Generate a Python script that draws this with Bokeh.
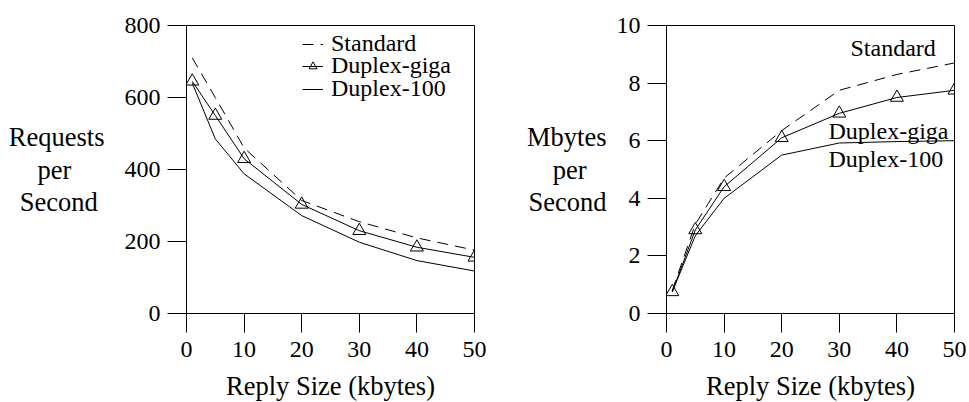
from bokeh.plotting import figure
from bokeh.models import Legend, LegendItem, Label, FixedTicker, Range1d
from bokeh.layouts import row
from bokeh.embed import file_html
from bokeh.resources import INLINE

# ---- data ----
reply_size = [1, 5, 10, 20, 30, 40, 50]
x_ticks = [0, 10, 20, 30, 40, 50]

req_standard = [710, 600, 460, 314, 255, 210, 176]
req_duplex_giga = [645, 550, 430, 303, 230, 184, 156]
req_duplex_100 = [640, 485, 388, 272, 198, 147, 118]
req_ticks = [0, 200, 400, 600, 800]

mb_standard = [0.8, 3.1, 4.7, 6.35, 7.75, 8.3, 8.7]
mb_duplex_giga = [0.75, 2.9, 4.4, 6.1, 6.95, 7.5, 7.75]
mb_duplex_100 = [0.75, 2.7, 4.0, 5.5, 5.92, 5.97, 6.0]
mb_ticks = [0, 2, 4, 6, 8, 10]

series_names = ["Standard", "Duplex-giga", "Duplex-100"]
x_label = "Reply Size (kbytes)"
NB = "\u00a0"
# lines are right-anchored by Bokeh; non-breaking spaces centre the shorter lines
left_ylabel = "Requests\nper" + NB * 5 + "\nSecond" + NB
right_ylabel = "Mbytes\nper" + NB * 3 + "\nSecond"

FONT = "Liberation Serif"
TICK_FS = "24px"
LABEL_FS = "26.5px"


def make_fig(left, right, ymax, yticks, ylab, ylab_standoff):
    p = figure(frame_width=288, frame_height=288, output_backend="svg", toolbar_location=None,
               x_range=Range1d(0, 50), y_range=Range1d(0, ymax),
               min_border_left=left, min_border_right=right,
               min_border_top=25, min_border_bottom=80)
    p.xaxis.ticker = FixedTicker(ticks=x_ticks)
    p.yaxis.ticker = FixedTicker(ticks=yticks)
    for ax in p.axis:
        ax.major_tick_out = 19
        ax.major_tick_in = 0
        ax.minor_tick_out = 0
        ax.minor_tick_in = 0
        ax.major_tick_line_color = "black"
        ax.axis_line_color = "black"
        ax.major_label_text_font = FONT
        ax.major_label_text_font_size = TICK_FS
        ax.major_label_text_color = "black"
        ax.axis_label_text_font = FONT
        ax.axis_label_text_font_size = LABEL_FS
        ax.axis_label_text_font_style = "normal"
        ax.axis_label_text_color = "black"
    p.xaxis.major_label_standoff = 9
    p.yaxis.major_label_standoff = 7
    p.xaxis.axis_label = x_label
    p.xaxis.axis_label_standoff = 11
    p.yaxis.axis_label = ylab
    p.yaxis.axis_label_standoff = ylab_standoff
    p.yaxis.axis_label_text_line_height = 1.08
    p.yaxis.axis_label_text_align = "center"
    try:
        p.yaxis.axis_label_orientation = "horizontal"
    except Exception:
        pass
    p.grid.visible = False
    p.outline_line_color = "black"
    p.outline_line_width = 1
    p.background_fill_color = "white"
    p.border_fill_color = "white"
    return p


# ---- left chart ----
p1 = make_fig(186, 36, 800, req_ticks, left_ylabel, 17)
r_std = p1.line(reply_size, req_standard, line_color="black", line_width=1, line_dash="11 7")
r_giga_l = p1.line(reply_size, req_duplex_giga, line_color="black", line_width=1)
r_giga_m = p1.scatter(reply_size, req_duplex_giga, marker="triangle", size=13,
                      line_color="black", fill_color=None, line_width=1)
r_100 = p1.line(reply_size, req_duplex_100, line_color="black", line_width=1)
legend_entries = [(series_names[0], [r_std], 256),
                  (series_names[1], [r_giga_l, r_giga_m], 234),
                  (series_names[2], [r_100], 211)]
for name, rends, ly in legend_entries:
    p1.add_layout(Legend(items=[LegendItem(label=name, renderers=rends)],
                         location=(116, ly), padding=0, margin=0, spacing=0,
                         glyph_width=21, glyph_height=20, label_standoff=8,
                         label_text_font=FONT, label_text_font_size=TICK_FS,
                         label_text_color="black", border_line_color=None,
                         background_fill_alpha=0))

# ---- right chart ----
p2 = make_fig(156, 15, 10, mb_ticks, right_ylabel, 7)
p2.line(reply_size, mb_standard, line_color="black", line_width=1, line_dash="11 7")
p2.line(reply_size, mb_duplex_giga, line_color="black", line_width=1)
p2.scatter(reply_size, mb_duplex_giga, marker="triangle", size=13,
           line_color="black", fill_color=None, line_width=1)
p2.line(reply_size, mb_duplex_100, line_color="black", line_width=1)
for name, xo, yo in [(series_names[0], 184, 266), (series_names[1], 162, 183),
                     (series_names[2], 162, 155)]:
    p2.add_layout(Label(x=xo, y=yo, x_units="screen", y_units="screen", text=name,
                        text_font=FONT, text_font_size=TICK_FS, text_color="black",
                        text_align="left", text_baseline="middle"))

layout = row(p1, p2)
open("out.html", "w").write(file_html(layout, INLINE))
